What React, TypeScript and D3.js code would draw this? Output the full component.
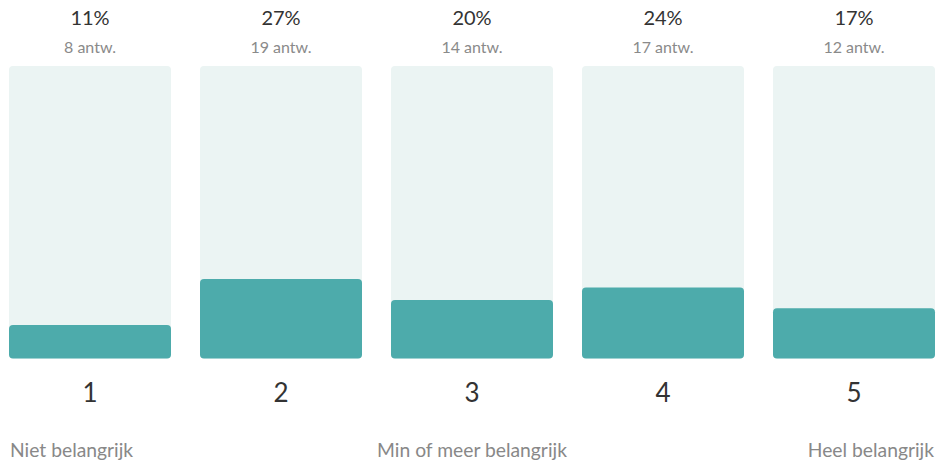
import React from "react";
import * as d3 from "d3";

const categories = ["1", "2", "3", "4", "5"];
const counts = [8, 19, 14, 17, 12];
const percentLabels = ["11%", "27%", "20%", "24%", "17%"];
const countLabels = ["8 antw.", "19 antw.", "14 antw.", "17 antw.", "12 antw."];
const scaleLabels = ["Niet belangrijk", "Min of meer belangrijk", "Heel belangrijk"];

const W = 938;
const H = 466;
const FONT = "Lato, 'Noto Sans', sans-serif";

export default function App() {
  const total = d3.sum(counts);
  const x = d3.scaleBand<string>().domain(categories).range([9, 935]).paddingInner(29 / 191).paddingOuter(0);
  const y = d3.scaleLinear().domain([0, 1]).range([358.5, 66]);
  const bw = x.bandwidth();

  return (
    <svg width={W} height={H} style={{ position: "absolute", left: 0, top: 0, fontFamily: FONT }}>
      {categories.map((c, i) => {
        const x0 = x(c)!;
        const cx = x0 + bw / 2;
        const frac = counts[i] / total;
        return (
          <g key={c}>
            <rect x={x0} y={y(1)} width={bw} height={y(0) - y(1)} rx={4} fill="#ebf4f3" />
            <rect x={x0} y={y(frac)} width={bw} height={y(0) - y(frac)} rx={4} fill="#4dabab" />
            <text x={cx} y={25} textAnchor="middle" fontSize={20} fill="#333">{percentLabels[i]}</text>
            <text x={cx} y={52.5} textAnchor="middle" fontSize={16} fill="#8a8a8a">{countLabels[i]}</text>
            <text x={cx} y={402} textAnchor="middle" fontSize={26} fill="#333">{c}</text>
          </g>
        );
      })}
      <text x={10} y={457} textAnchor="start" fontSize={19.3} fill="#888">{scaleLabels[0]}</text>
      <text x={x("3")! + bw / 2} y={457} textAnchor="middle" fontSize={19.3} fill="#888">{scaleLabels[1]}</text>
      <text x={934} y={457} textAnchor="end" fontSize={19.3} fill="#888">{scaleLabels[2]}</text>
    </svg>
  );
}
